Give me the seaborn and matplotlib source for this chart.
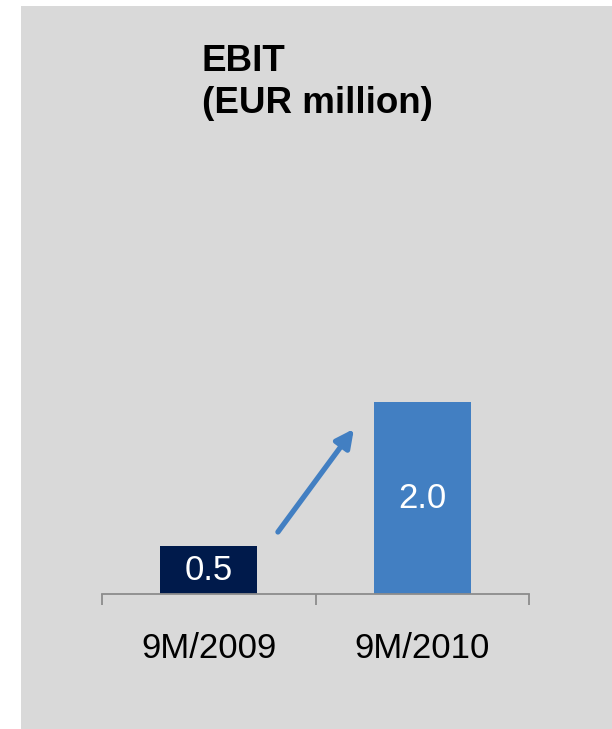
import matplotlib
matplotlib.use("Agg")
import matplotlib.pyplot as plt
import seaborn as sns
import pandas as pd
from matplotlib.patches import Rectangle

categories = ["9M/2009", "9M/2010"]
values = [0.5, 2.0]
value_labels = ["0.5", "2.0"]
bar_colors = ["#001A4B", "#427FC2"]
title_lines = ["EBIT", "(EUR million)"]

sns.set_theme(style="white")
plt.rcParams["font.family"] = ["Liberation Sans", "DejaVu Sans"]
plt.rcParams["text.color"] = "black"

W, H = 612, 729
fig = plt.figure(figsize=(W / 100, H / 100), dpi=100, facecolor="white")

# grey panel
fig.patches.append(Rectangle((21 / W, 0), (W - 21) / W, (H - 6) / H,
                             transform=fig.transFigure, facecolor="#D9D9D9",
                             edgecolor="none", zorder=-5))

ax = fig.add_axes([102 / W, 135 / H, 427 / W, 384 / H])
ax.set_facecolor("none")
ax.set_zorder(2)

df = pd.DataFrame({"cat": categories, "val": values})
sns.barplot(data=df, x="cat", y="val", hue="cat", palette=bar_colors,
            width=0.455, ax=ax, legend=False, saturation=1, linewidth=0)

ax.set_xlim(-0.5, 1.5)
ax.set_ylim(0, 4)
for s in ["top", "right", "left"]:
    ax.spines[s].set_visible(False)
ax.spines["bottom"].set_color("#8C8C8C")
ax.spines["bottom"].set_linewidth(1.3)
ax.set_yticks([])
ax.set_xlabel("")
ax.set_ylabel("")
ax.set_xticks([-0.5, 0.5, 1.5])
ax.set_xticklabels([])
ax.tick_params(axis="x", which="major", direction="out", length=8,
               width=1.3, color="#8C8C8C", bottom=True)
ax.set_xticks([0, 1], minor=True)
ax.set_xticklabels(categories, minor=True, fontsize=25, color="black")
ax.tick_params(axis="x", which="minor", length=0, pad=27, labelcolor="black")

for i, (v, lab) in enumerate(zip(values, value_labels)):
    ax.text(i, v / 2, lab, ha="center", va="center", color="white", fontsize=25)

ax.annotate("", xy=(0.68, 1.72), xytext=(0.324, 0.646), xycoords="data",
            arrowprops=dict(arrowstyle="-|>,head_length=0.9,head_width=0.45",
                            color="#427FC2", lw=3.8, shrinkA=0, shrinkB=0))

fig.text(202 / W, 1 - 71 / H, title_lines[0], fontsize=26.5, fontweight="bold",
         va="baseline", ha="left", color="black")
fig.text(202 / W, 1 - 113 / H, title_lines[1], fontsize=26.5, fontweight="bold",
         va="baseline", ha="left", color="black")

fig.savefig("out.png", dpi=100, facecolor="white")
